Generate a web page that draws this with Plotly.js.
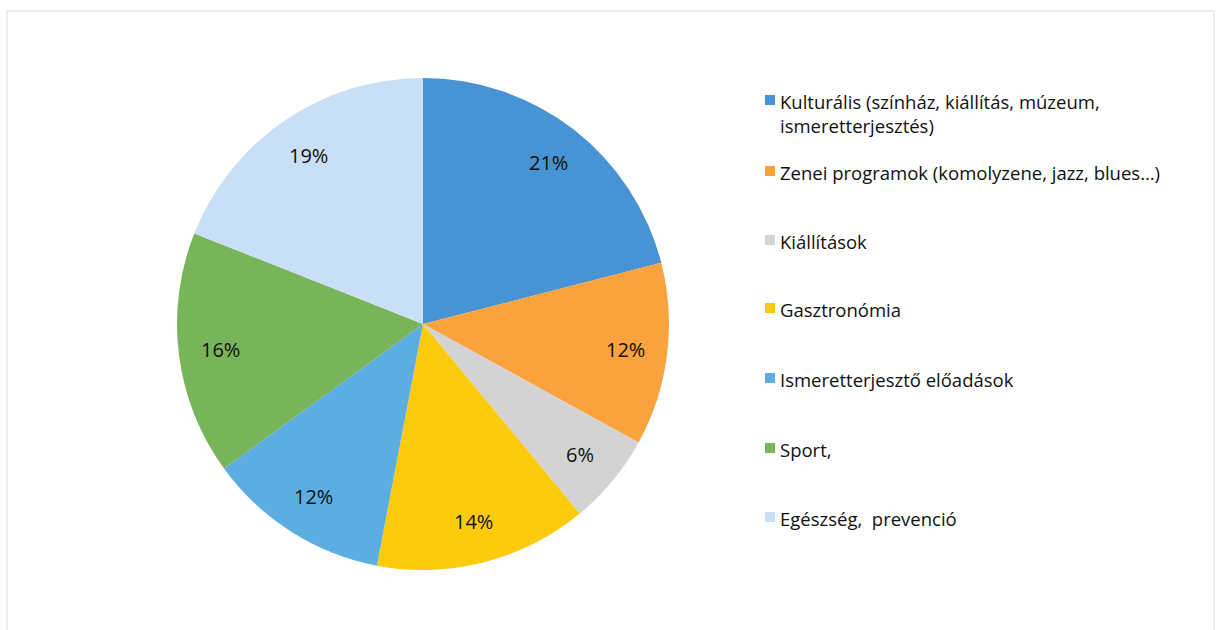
<!DOCTYPE html>
<html>
<head>
<meta charset="utf-8">
<script src="https://cdn.plot.ly/plotly-3.0.1.min.js"></script>
<style>html,body{margin:0;padding:0;background:#fff;}#chart{width:1223px;height:630px;}</style>
</head>
<body>
<div id="chart"></div>
<script>
const categories = [
  "Kulturális (színház, kiállítás, múzeum,<br>ismeretterjesztés)",
  "Zenei programok (komolyzene, jazz, blues…)",
  "Kiállítások",
  "Gasztronómia",
  "Ismeretterjesztő előadások",
  "Sport,",
  "Egészség,  prevenció"
];
const values = [21, 12, 6, 14, 12, 16, 19];
const colors = ["#4893d3", "#f9a23e", "#d3d3d3", "#fccb0c", "#5cade2", "#78b45a", "#c9dff5"];

const W = 1223, H = 630;
const cx = 423, cy = 324, R = 246;
const px2x = p => p / W;
const py2y = p => 1 - p / H;

const trace = {
  type: "pie",
  values: values,
  labels: categories,
  marker: {colors: colors, line: {width: 0}},
  sort: false,
  direction: "clockwise",
  rotation: 0,
  textinfo: "none",
  hoverinfo: "label+percent",
  showlegend: false,
  domain: {x: [px2x(cx - R), px2x(cx + R)], y: [py2y(cy + R), py2y(cy - R)]}
};

const annotations = [];
const shapes = [];
// percentage labels placed along each slice's mid-angle
const total = values.reduce((a, b) => a + b, 0);
let cum = 0;
values.forEach(v => {
  const mid = (cum + v / 2) / total * 2 * Math.PI;
  cum += v;
  const r = 0.83 * R;
  annotations.push({
    xref: "paper", yref: "paper",
    x: px2x(cx + r * Math.sin(mid)), y: py2y(cy - r * Math.cos(mid)),
    text: Math.round(v / total * 100) + "%",
    showarrow: false, xanchor: "center", yanchor: "middle",
    font: {family: "Open Sans, sans-serif", size: 20, color: "#111111"}
  });
});
// legend (first-line centres in pixels)
const legCenters = [100, 171, 240, 308, 378, 448, 517];
const fs = 18.5;
categories.forEach((c, i) => {
  const m = legCenters[i];
  shapes.push({type: "rect", xref: "paper", yref: "paper",
    x0: px2x(765), x1: px2x(775), y0: py2y(m + 5), y1: py2y(m - 5),
    fillcolor: colors[i], line: {width: 0}});
  annotations.push({
    xref: "paper", yref: "paper", x: px2x(778), y: py2y(m - fs * 0.65 - 1),
    text: c, showarrow: false, xanchor: "left", yanchor: "top", align: "left",
    font: {family: "Open Sans, sans-serif", size: fs, color: "#111111"}
  });
});
// chart border
shapes.push({type: "rect", xref: "paper", yref: "paper",
  x0: px2x(7), x1: px2x(1214), y0: py2y(640), y1: py2y(11),
  line: {color: "#d9d9d9", width: 1}, fillcolor: "rgba(0,0,0,0)"});

Plotly.newPlot("chart", [trace], {
  width: W, height: H,
  margin: {l: 0, r: 0, t: 0, b: 0},
  paper_bgcolor: "#ffffff",
  showlegend: false,
  annotations: annotations,
  shapes: shapes
}, {displayModeBar: false});
</script>
</body>
</html>
